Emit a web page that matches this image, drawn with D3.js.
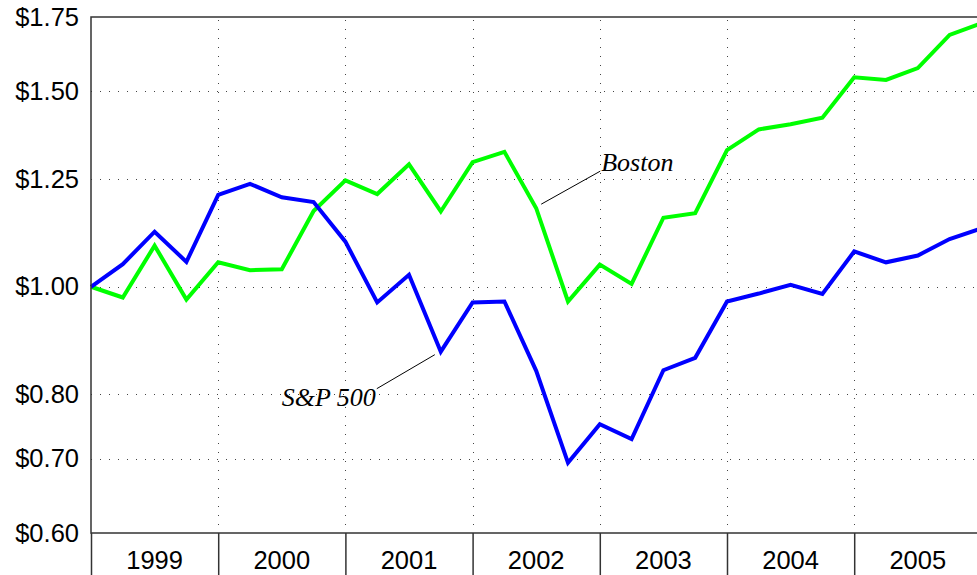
<!DOCTYPE html>
<html>
<head>
<meta charset="utf-8">
<script src="https://cdn.jsdelivr.net/npm/d3@7"></script>
<style>
  body { margin: 0; background: #fff; }
  svg { display: block; }
</style>
</head>
<body>
<div id="chart"></div>
<script>
// quarterly points, 1999 Q1 .. 2006 Q1 (decimal years)
var quarters = d3.range(0, 29).map(i => 1999 + i / 4);
var years = [1999, 2000, 2001, 2002, 2003, 2004, 2005];
var yTicks = [0.60, 0.70, 0.80, 1.00, 1.25, 1.50, 1.75];

// growth of $1
var boston = [1.000, 0.978, 1.089, 0.974, 1.052, 1.035, 1.037, 1.170, 1.247, 1.212,
              1.289, 1.169, 1.295, 1.323, 1.177, 0.970, 1.047, 1.006, 1.154, 1.165,
              1.328, 1.386, 1.401, 1.420, 1.544, 1.536, 1.574, 1.686, 1.727];
var sp500  = [1.000, 1.048, 1.121, 1.053, 1.210, 1.238, 1.204, 1.192, 1.098, 0.968,
              1.025, 0.874, 0.968, 0.970, 0.840, 0.694, 0.752, 0.729, 0.841, 0.863,
              0.970, 0.986, 1.004, 0.985, 1.076, 1.052, 1.067, 1.104, 1.129];

var color_palette = ['#00ff00', '#0000ff'];

var width = 977, height = 575;
var margin = {top: 17, left: 91, bottom: 533};
var yearW = 127.2;

var svg = d3.select('#chart').append('svg')
  .attr('width', width)
  .attr('height', height)
  .attr('font-family', 'Liberation Sans, Arial, sans-serif');

var x = d3.scaleLinear()
  .domain([1999, 2006])
  .range([margin.left, margin.left + 7 * yearW]);

var y = d3.scaleLog()
  .domain([0.60, 1.75])
  .range([margin.bottom, margin.top]);

// dotted grid
svg.append('g')
  .selectAll('line')
  .data(yTicks.slice(1, -1))
  .join('line')
  .attr('x1', x(1999)).attr('x2', x(2006))
  .attr('y1', d => Math.round(y(d)) + 0.5).attr('y2', d => Math.round(y(d)) + 0.5)
  .attr('stroke', '#444')
  .attr('stroke-dasharray', '1,8');

svg.append('g')
  .selectAll('line')
  .data(years.slice(1))
  .join('line')
  .attr('x1', d => Math.round(x(d)) + 0.5).attr('x2', d => Math.round(x(d)) + 0.5)
  .attr('y1', margin.top + 3).attr('y2', margin.bottom)
  .attr('stroke', '#444')
  .attr('stroke-dasharray', '1,8');

// lines
var line = d3.line()
  .x((d, i) => x(quarters[i]))
  .y(d => y(d));

svg.append('path')
  .datum(boston)
  .attr('fill', 'none')
  .attr('stroke', color_palette[0])
  .attr('stroke-width', 4)
  .attr('stroke-linejoin', 'miter')
  .attr('d', line);

svg.append('path')
  .datum(sp500)
  .attr('fill', 'none')
  .attr('stroke', color_palette[1])
  .attr('stroke-width', 4)
  .attr('stroke-linejoin', 'miter')
  .attr('d', line);

// frame
svg.append('rect')
  .attr('x', x(1999)).attr('y', margin.top)
  .attr('width', x(2006) - x(1999))
  .attr('height', margin.bottom - margin.top)
  .attr('fill', 'none')
  .attr('stroke', '#333')
  .attr('stroke-width', 1.5);

// y axis
var yAxis = g => g
  .attr('transform', `translate(${margin.left},0)`)
  .call(d3.axisLeft(y).tickValues(yTicks).tickSize(0).tickPadding(12)
    .tickFormat(d => '$' + d3.format('.2f')(d)))
  .call(g => g.select('.domain').remove())
  .call(g => g.selectAll('.tick text')
    .attr('fill', '#000')
    .attr('font-family', 'Liberation Sans, Arial, sans-serif')
    .attr('font-size', '25.5px'));

svg.append('g').call(yAxis);

// x axis: year separators below the axis, labels centred in each year
var xAxis = g => g
  .attr('transform', `translate(0,${margin.bottom})`)
  .call(d3.axisBottom(x).tickValues(years.concat([2006])).tickSize(45).tickFormat(''))
  .call(g => g.select('.domain').remove())
  .call(g => g.selectAll('.tick line').attr('stroke', '#333').attr('stroke-width', 1.5));

svg.append('g').call(xAxis);

svg.append('g')
  .selectAll('text')
  .data(years)
  .join('text')
  .attr('x', d => x(d + 0.5))
  .attr('y', 569)
  .attr('text-anchor', 'middle')
  .attr('font-size', '25.5px')
  .attr('fill', '#000')
  .text(d => d);

// series labels with leader lines
var labels = [
  {text: 'Boston', data: boston, i: 14, lx: 5, ly: -4, tx: 64, ty: -37},
  {text: 'S&P 500', data: sp500, i: 11, lx: -6, ly: 3, tx: -64, ty: 37}
];

labels.forEach(l => {
  var px = x(quarters[l.i]), py = y(l.data[l.i]);
  var ex = px + l.tx, ey = py + l.ty;
  svg.append('line')
    .attr('x1', px + l.lx).attr('y1', py + l.ly)
    .attr('x2', ex).attr('y2', ey)
    .attr('stroke', '#000')
    .attr('stroke-width', 1);
  svg.append('text')
    .attr('x', l.tx > 0 ? ex + 1 : ex - 1)
    .attr('y', l.tx > 0 ? ey : ey + 17)
    .attr('text-anchor', l.tx > 0 ? 'start' : 'end')
    .attr('font-family', 'Liberation Serif, Times New Roman, serif')
    .attr('font-style', 'italic')
    .attr('font-size', '26px')
    .attr('fill', '#000')
    .text(l.text);
});
</script>
</body>
</html>
